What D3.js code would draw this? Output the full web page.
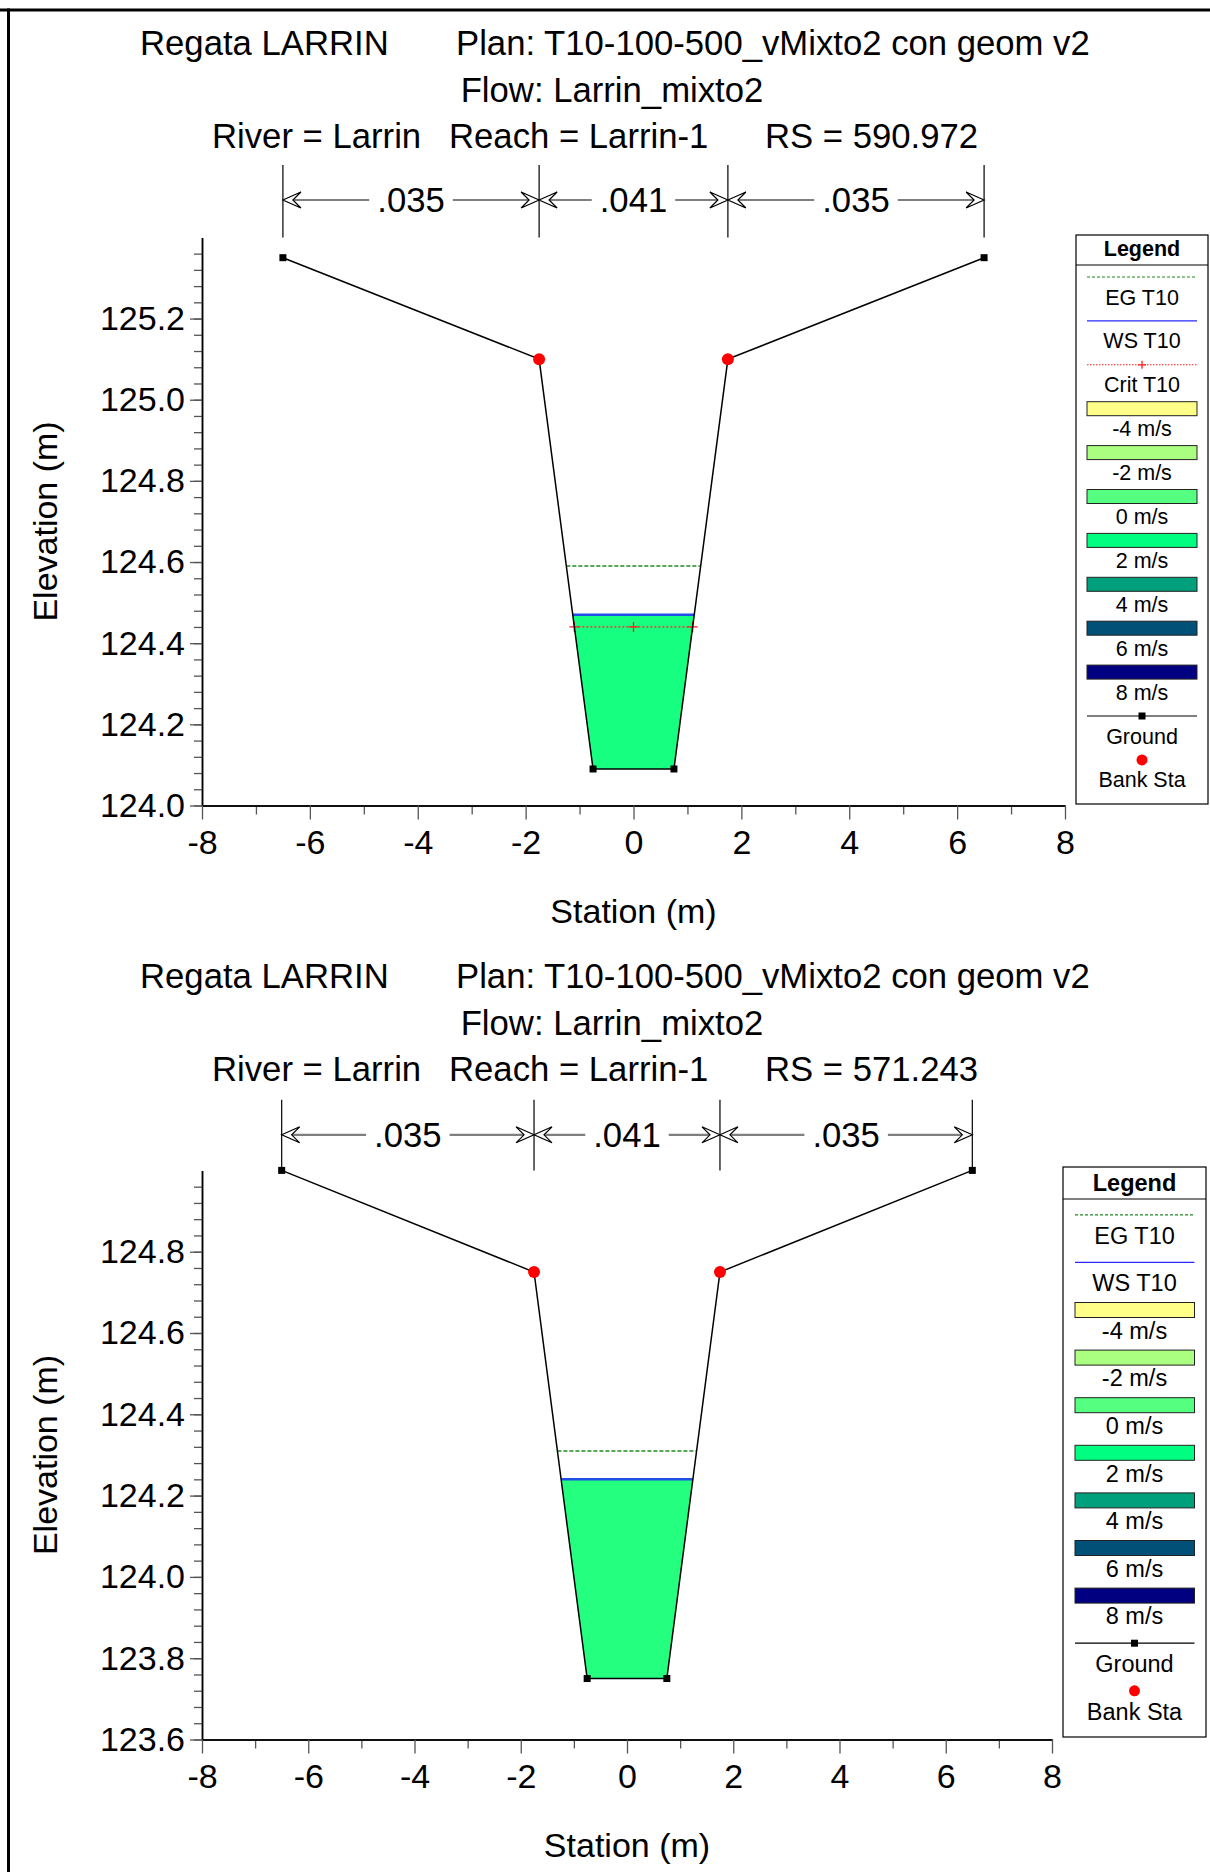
<!DOCTYPE html>
<html>
<head>
<meta charset="utf-8">
<script src="https://cdn.jsdelivr.net/npm/d3@7"></script>
<style>
  body { margin: 0; background: #fff; }
  svg { display: block; }
  text { font-family: "Liberation Sans", Arial, sans-serif; fill: #000; }
</style>
</head>
<body>
<svg id="chart" width="1210" height="1872"></svg>
<script>
// ---------- shared labels ----------
const stationTicks = [-8, -6, -4, -2, 0, 2, 4, 6, 8];
const stationMinorTicks = [-7, -5, -3, -1, 1, 3, 5, 7];
const titleProject = "Regata LARRIN";
const titlePlan = "Plan: T10-100-500_vMixto2 con geom v2";
const titleFlow = "Flow: Larrin_mixto2";
const titleRiver = "River = Larrin";
const titleReach = "Reach = Larrin-1";
const manningBreaks = [-6.5, -1.75, 1.75, 6.5];
const manningValues = [".035", ".041", ".035"];
const velocityLabels = ["-4 m/s", "-2 m/s", "0 m/s", "2 m/s", "4 m/s", "6 m/s", "8 m/s"];
const velocityColors = ["#ffff88", "#aaff80", "#55ff80", "#00ff80", "#00a07c", "#005078", "#000080"];

// ---------- cross section RS 590.972 ----------
const rsA = "RS = 590.972";
const groundStationA = [-6.5, -1.75, -0.75, 0.75, 1.75, 6.5];
const groundElevA = [125.35, 125.10, 124.09, 124.09, 125.10, 125.35];
const bankStationA = [-1.75, 1.75];
const egA = 124.59;
const wsA = 124.47;
const critA = 124.44;
const elevTicksA = [124.0, 124.2, 124.4, 124.6, 124.8, 125.0, 125.2];
const elevDomainA = [124.0, 125.4];

// ---------- cross section RS 571.243 ----------
const rsB = "RS = 571.243";
const groundStationB = [-6.5, -1.75, -0.75, 0.75, 1.75, 6.5];
const groundElevB = [125.00, 124.75, 123.75, 123.75, 124.75, 125.00];
const bankStationB = [-1.75, 1.75];
const egB = 124.31;
const wsB = 124.24;
const elevTicksB = [123.6, 123.8, 124.0, 124.2, 124.4, 124.6, 124.8];
const elevDomainB = [123.6, 125.0];

const svg = d3.select("#chart");
const FONT = 34;
const TITLE_FONT = 34.7;
// plain hyphen for negative numbers
const fmtStation = d => String(d);
const fmtElev = d => d.toFixed(1);

// page frame (top and left rules)
svg.append("line").attr("x1", 0).attr("x2", 1210).attr("y1", 10).attr("y2", 10)
  .attr("stroke", "#000").attr("stroke-width", 3);
svg.append("line").attr("x1", 8.5).attr("x2", 8.5).attr("y1", 8.5).attr("y2", 1872)
  .attr("stroke", "#000").attr("stroke-width", 3);

// station where the ground line crosses a given level (leftmost and rightmost)
function crossings(st, el, z) {
  const xs = [];
  for (let i = 0; i < st.length - 1; i++) {
    const e1 = el[i], e2 = el[i + 1];
    if ((e1 - z) * (e2 - z) <= 0 && e1 !== e2) {
      xs.push(st[i] + (z - e1) / (e2 - e1) * (st[i + 1] - st[i]));
    }
  }
  return [d3.min(xs), d3.max(xs)];
}

function drawSection(cfg) {
  const g = svg.append("g");
  const x = d3.scaleLinear().domain([-8, 8]).range(cfg.xRange);
  const y = d3.scaleLinear().domain(cfg.elevDomain).range(cfg.yRange);
  const ty = cfg.titleY;

  // titles
  const t = g.append("g").attr("font-size", TITLE_FONT);
  t.append("text").attr("x", 140).attr("y", ty).text(titleProject);
  t.append("text").attr("x", 456).attr("y", ty).text(titlePlan);
  t.append("text").attr("x", 612).attr("y", ty + 46.5).attr("text-anchor", "middle").text(titleFlow);
  t.append("text").attr("x", 212).attr("y", ty + 93).text(titleRiver);
  t.append("text").attr("x", 449).attr("y", ty + 93).text(titleReach);
  t.append("text").attr("x", 765).attr("y", ty + 93).text(cfg.rs);

  // Manning's n regions
  const plotTop = cfg.yRange[1];
  const ay = cfg.arrowY;
  const m = g.append("g");
  manningBreaks.forEach(s => {
    m.append("line").attr("x1", x(s)).attr("x2", x(s))
      .attr("y1", ay - 35).attr("y2", plotTop)
      .attr("stroke", "#000").attr("stroke-width", 1.2);
  });
  const arrow = (tip, dir) => {
    const p = d3.path();
    p.moveTo(tip, ay);
    p.lineTo(tip + dir * 18, ay - 8);
    p.lineTo(tip + dir * 10, ay);
    p.lineTo(tip + dir * 18, ay + 8);
    p.closePath();
    m.append("path").attr("d", p.toString()).attr("fill", "#fff")
      .attr("stroke", "#000").attr("stroke-width", 1.2);
  };
  manningValues.forEach((v, i) => {
    const a = x(manningBreaks[i]), b = x(manningBreaks[i + 1]);
    const cx = (a + b) / 2;
    const txt = m.append("text").attr("x", cx).attr("y", ay + 12)
      .attr("text-anchor", "middle").attr("font-size", TITLE_FONT).text(v);
    const w = txt.node().getComputedTextLength();
    m.append("line").attr("x1", a + 10).attr("x2", cx - w / 2 - 8)
      .attr("y1", ay).attr("y2", ay).attr("stroke", "#7f7f7f").attr("stroke-width", 2.2);
    m.append("line").attr("x1", cx + w / 2 + 8).attr("x2", b - 10)
      .attr("y1", ay).attr("y2", ay).attr("stroke", "#7f7f7f").attr("stroke-width", 2.2);
    arrow(a, 1);
    arrow(b, -1);
  });

  // axes
  const x0 = cfg.xRange[0], y0 = cfg.yRange[0];
  const minorElev = d3.range(Math.round(cfg.elevDomain[0] * 100), Math.round(cfg.elevDomain[1] * 100), 4)
    .map(v => v / 100);
  const yMinor = g.append("g").attr("transform", `translate(${x0},0)`)
    .call(d3.axisLeft(y).tickValues(minorElev).tickSize(8).tickSizeOuter(0).tickFormat(""));
  const yMajor = g.append("g").attr("transform", `translate(${x0},0)`)
    .call(d3.axisLeft(y).tickValues(cfg.elevTicks).tickSize(12).tickPadding(5)
      .tickSizeOuter(0).tickFormat(fmtElev));
  const xMinor = g.append("g").attr("transform", `translate(0,${y0})`)
    .call(d3.axisBottom(x).tickValues(stationMinorTicks).tickSize(9).tickSizeOuter(0).tickFormat(""));
  const xMajor = g.append("g").attr("transform", `translate(0,${y0})`)
    .call(d3.axisBottom(x).tickValues(stationTicks).tickSize(14).tickPadding(10)
      .tickSizeOuter(0).tickFormat(fmtStation));
  [yMinor, yMajor, xMinor, xMajor].forEach(a => {
    a.selectAll(".tick line").attr("stroke", "#555").attr("stroke-width", 1.3);
    a.select(".domain").attr("stroke", "#000").attr("stroke-width", 1.5);
    a.selectAll("text").attr("font-size", FONT).attr("font-family", "Liberation Sans, Arial, sans-serif")
      .attr("fill", "#000");
  });

  // axis titles
  g.append("text").attr("font-size", FONT).attr("text-anchor", "middle")
    .attr("transform", `translate(${57},${(cfg.yRange[0] + cfg.yRange[1]) / 2}) rotate(-90)`)
    .text("Elevation (m)");
  g.append("text").attr("font-size", FONT).attr("text-anchor", "middle")
    .attr("x", (cfg.xRange[0] + cfg.xRange[1]) / 2).attr("y", y0 + 117)
    .text("Station (m)");

  // water area below the water surface
  const st = cfg.groundStation, el = cfg.groundElev;
  const [wl, wr] = crossings(st, el, cfg.ws);
  const poly = [[wl, cfg.ws]];
  st.forEach((s, i) => { if (s > wl && s < wr) poly.push([s, el[i]]); });
  poly.push([wr, cfg.ws]);
  g.append("path")
    .attr("d", d3.line().x(d => x(d[0])).y(d => y(d[1])).curve(d3.curveLinearClosed)(poly))
    .attr("fill", cfg.waterColor).attr("stroke", "none");

  // energy grade line
  const [el1, el2] = crossings(st, el, cfg.eg);
  g.append("line").attr("x1", x(el1)).attr("x2", x(el2)).attr("y1", y(cfg.eg)).attr("y2", y(cfg.eg))
    .attr("stroke", "#1e8c1e").attr("stroke-width", 1.5).attr("stroke-dasharray", "4,2");

  // water surface
  g.append("line").attr("x1", x(wl)).attr("x2", x(wr)).attr("y1", y(cfg.ws)).attr("y2", y(cfg.ws))
    .attr("stroke", "#1f4fe6").attr("stroke-width", 2.5);

  // critical depth
  if (cfg.crit !== undefined) {
    const [c1, c2] = crossings(st, el, cfg.crit);
    const cy = y(cfg.crit);
    g.append("line").attr("x1", x(c1)).attr("x2", x(c2)).attr("y1", cy).attr("y2", cy)
      .attr("stroke", "#ff2020").attr("stroke-width", 1.3).attr("stroke-dasharray", "2,2");
    [c1, (c1 + c2) / 2, c2].forEach(s => {
      g.append("path").attr("d", `M${x(s) - 5},${cy}H${x(s) + 5}M${x(s)},${cy - 5}V${cy + 5}`)
        .attr("stroke", "#ff2020").attr("stroke-width", 1.3);
    });
  }

  // ground line
  g.append("path")
    .attr("d", d3.line().x((d, i) => x(st[i])).y((d, i) => y(el[i]))(st))
    .attr("fill", "none").attr("stroke", "#000").attr("stroke-width", 1.5);
  st.forEach((s, i) => {
    if (cfg.banks.includes(s)) return;
    g.append("rect").attr("x", x(s) - 3.5).attr("y", y(el[i]) - 3.5)
      .attr("width", 7).attr("height", 7).attr("fill", "#000");
  });
  cfg.banks.forEach(s => {
    const i = st.indexOf(s);
    g.append("circle").attr("cx", x(s)).attr("cy", y(el[i])).attr("r", 6).attr("fill", "#ff0000");
  });

  // legend
  const L = cfg.legend;
  const lg = g.append("g");
  lg.append("rect").attr("x", L.x).attr("y", L.y).attr("width", L.w).attr("height", L.h)
    .attr("fill", "#fff").attr("stroke", "#000").attr("stroke-width", 1.2);
  lg.append("line").attr("x1", L.x).attr("x2", L.x + L.w).attr("y1", L.y + L.sep).attr("y2", L.y + L.sep)
    .attr("stroke", "#000").attr("stroke-width", 1.2);
  const cx = L.x + L.w / 2;
  lg.append("text").attr("x", cx).attr("y", L.y + L.header).attr("dy", "0.35em")
    .attr("text-anchor", "middle").attr("font-size", L.font).attr("font-weight", "bold").text("Legend");

  const items = [{ type: "eg", label: "EG T10" }, { type: "ws", label: "WS T10" }];
  if (cfg.crit !== undefined) items.push({ type: "crit", label: "Crit T10" });
  velocityLabels.forEach((lab, i) => items.push({ type: "swatch", label: lab, color: velocityColors[i] }));
  items.push({ type: "ground", label: "Ground" }, { type: "bank", label: "Bank Sta" });

  items.forEach((it, i) => {
    const my = L.y + L.first + i * L.step;
    if (it.type === "eg") {
      lg.append("line").attr("x1", L.s0).attr("x2", L.s1).attr("y1", my).attr("y2", my)
        .attr("stroke", "#1e8c1e").attr("stroke-width", 1.2).attr("stroke-dasharray", "3,2");
    } else if (it.type === "ws") {
      lg.append("line").attr("x1", L.s0).attr("x2", L.s1).attr("y1", my).attr("y2", my)
        .attr("stroke", "#2a2aff").attr("stroke-width", 1.3);
    } else if (it.type === "crit") {
      lg.append("line").attr("x1", L.s0).attr("x2", L.s1).attr("y1", my).attr("y2", my)
        .attr("stroke", "#ff2020").attr("stroke-width", 1.1).attr("stroke-dasharray", "1.5,1.5");
      lg.append("path").attr("d", `M${cx - 4},${my}H${cx + 4}M${cx},${my - 4}V${my + 4}`)
        .attr("stroke", "#ff2020").attr("stroke-width", 1.3);
    } else if (it.type === "swatch") {
      lg.append("rect").attr("x", L.s0).attr("y", my - L.swH / 2).attr("width", L.s1 - L.s0)
        .attr("height", L.swH).attr("fill", it.color).attr("stroke", "#222").attr("stroke-width", 1);
    } else if (it.type === "ground") {
      lg.append("line").attr("x1", L.s0).attr("x2", L.s1).attr("y1", my).attr("y2", my)
        .attr("stroke", "#000").attr("stroke-width", 1.2);
      lg.append("rect").attr("x", cx - 3.5).attr("y", my - 3.5).attr("width", 7).attr("height", 7)
        .attr("fill", "#000");
    } else if (it.type === "bank") {
      lg.append("circle").attr("cx", cx).attr("cy", my).attr("r", 5.5).attr("fill", "#ff0000");
    }
    lg.append("text").attr("x", cx).attr("y", my + L.textOff).attr("dy", "0.35em")
      .attr("text-anchor", "middle").attr("font-size", L.font).text(it.label);
  });
}

drawSection({
  rs: rsA, titleY: 55, arrowY: 200,
  xRange: [202, 1065], yRange: [805.5, 237.4],
  elevDomain: elevDomainA, elevTicks: elevTicksA,
  groundStation: groundStationA, groundElev: groundElevA, banks: bankStationA,
  eg: egA, ws: wsA, crit: critA, waterColor: "#16ff80",
  legend: { x: 1076, y: 235, w: 132, h: 569, sep: 30, header: 13.5, font: 21.5,
            first: 42, step: 43.9, textOff: 20, s0: 1087, s1: 1197, swH: 14 }
});

drawSection({
  rs: rsB, titleY: 988, arrowY: 1134.8,
  xRange: [202, 1052], yRange: [1739.5, 1170.4],
  elevDomain: elevDomainB, elevTicks: elevTicksB,
  groundStation: groundStationB, groundElev: groundElevB, banks: bankStationB,
  eg: egB, ws: wsB, waterColor: "#24ff80",
  legend: { x: 1063, y: 1167, w: 143, h: 570, sep: 32, header: 15.6, font: 23.5,
            first: 47.8, step: 47.6, textOff: 20.5, s0: 1075, s1: 1194.5, swH: 15 }
});
</script>
</body>
</html>
